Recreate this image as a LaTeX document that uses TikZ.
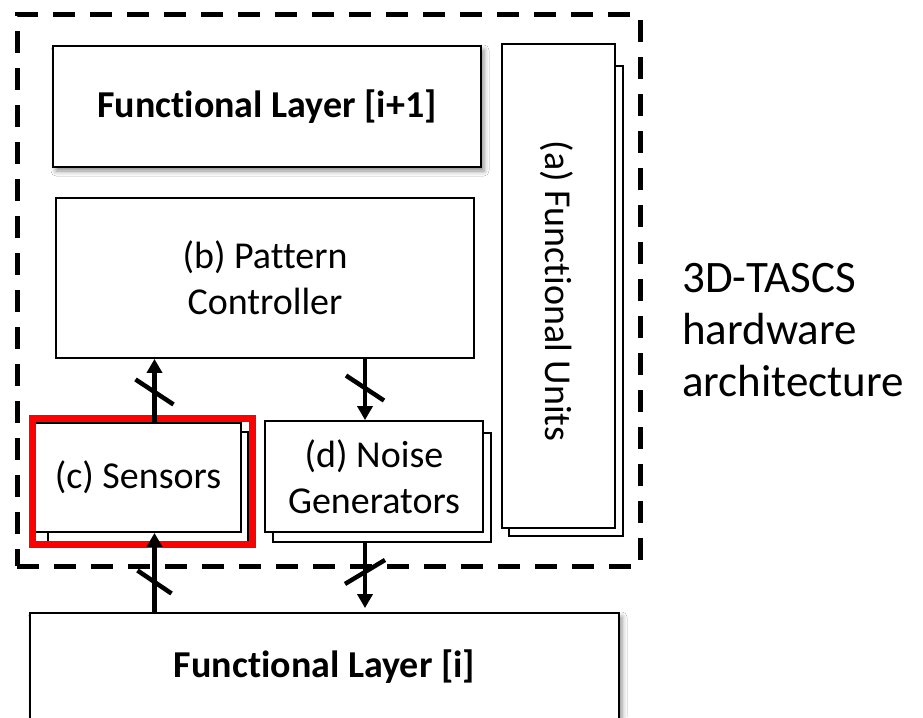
\documentclass[tikz,border=0pt]{standalone}
\usepackage{fontspec}
\setmainfont{Carlito}[RawFeature={-liga;-clig;-dlig}]
\usetikzlibrary{arrows.meta,calc,shadows.blur}

\tikzset{
  box/.style={draw=black, line width=1.8pt, fill=white, inner sep=0pt,
    font=\fontsize{38}{46}\selectfont, align=center},
  layerbox/.style={box, font=\fontsize{38}{46}\selectfont\bfseries,
    blur shadow={shadow xshift=3pt, shadow yshift=-4pt,
      shadow blur radius=5pt, shadow opacity=45}},
  backbox/.style={draw=black, line width=1.8pt, fill=white, inner sep=0pt},
  bus/.style={line width=4.5pt, -{Triangle[width=15pt,length=14pt]}},
  buscut/.style={line width=4.5pt},
  frame/.style={draw=black, line width=5pt, dash pattern=on 22pt off 15pt,
    inner sep=0pt},
  highlight/.style={draw=red, line width=7pt, inner sep=0pt},
}

\begin{document}
\begin{tikzpicture}[x=1pt, y=-1pt]
  \clip (0,0) rectangle (923,717);
  \fill[white] (0,0) rectangle (923,717);

  % dashed boundary of the 3D-TASCS hardware
  \node[frame, minimum width=623, minimum height=551] (frame) at (328.5,290.5) {};

  % upper functional layer
  \node[layerbox, minimum width=428, minimum height=121] (fl2) at (267,106.5)
    {Functional Layer [i+1]};

  % functional units (stacked)
  \node[backbox, minimum width=114, minimum height=470] (fub) at (566,301) {};
  \node[box, minimum width=113, minimum height=484] (fu) at (558.5,286) {};
  \node[font=\fontsize{38}{46}\selectfont, rotate=-90] (fulabel) at (557,291)
    {(a) Functional Units};

  % pattern controller
  \node[box, minimum width=418, minimum height=160] (pc) at (265,278)
    {(b) Pattern\\Controller};

  % sensors (stacked)
  \node[backbox, minimum width=200, minimum height=110] (sb) at (148,487) {};
  \node[box, minimum width=206, minimum height=109] (s) at (138,477.5)
    {(c) Sensors};

  % noise generators (stacked)
  \node[backbox, minimum width=218, minimum height=109] (nb) at (382,487.5) {};
  \node[box, minimum width=218, minimum height=111] (n) at (374,476.5)
    {(d) Noise\\Generators};

  % red highlight around the sensors
  \node[highlight, minimum width=220, minimum height=126] (hl) at (142,481) {};

  % lower functional layer
  \node[layerbox, minimum width=589, minimum height=108] (fl1) at (324.5,667)
    {Functional Layer [i]};

  % caption
  \node[font=\fontsize{45}{52}\selectfont, align=left, anchor=west, inner sep=0pt]
    (title) at (682,330) {3D-TASCS\\hardware\\architecture};

  % bus columns
  \coordinate (xl) at (154.5,0);
  \coordinate (xr) at (365,0);

  % buses with width marks
  \draw[bus] (s.north -| xl) -- coordinate[pos=0.477] (m1) (pc.south -| xl);
  \draw[buscut] ($(m1)+(-19,-12.5)$) -- ($(m1)+(19,12.5)$);

  \draw[bus] (pc.south -| xr) -- coordinate[pos=0.476] (m2) (n.north -| xr);
  \draw[buscut] ($(m2)+(-19,-12.5)$) -- ($(m2)+(19,12.5)$);

  \draw[bus] (fl1.north -| xl) -- coordinate[pos=0.38] (m3) (s.south -| xl);
  \draw[buscut] ($(m3)+(-17,-11.5)$) -- ($(m3)+(17,11.5)$);

  \draw[bus, shorten >=4pt] (nb.south -| xr) -- coordinate[pos=0.42] (m4) (fl1.north -| xr);
  \draw[buscut] ($(m4)+(-20,12)$) -- ($(m4)+(20,-12)$);
\end{tikzpicture}
\end{document}
